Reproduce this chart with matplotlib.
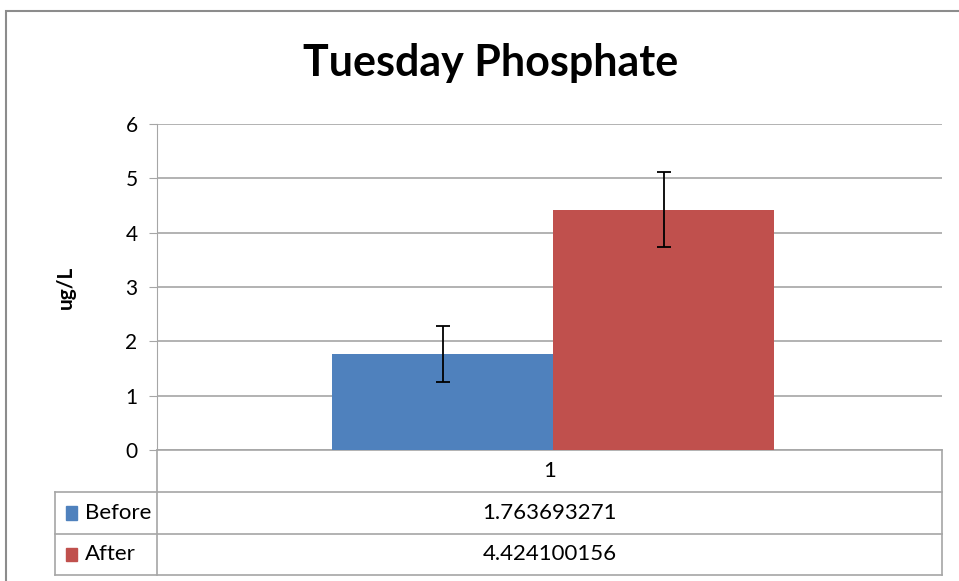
import matplotlib
matplotlib.use("Agg")
from matplotlib import pyplot as plt
from matplotlib.patches import Rectangle
from matplotlib.lines import Line2D

plt.rcParams["font.family"] = ["Lato", "DejaVu Sans"]

# data
series = ["Before", "After"]
values = [1.763693271, 4.424100156]
errors = [0.51, 0.69]
colors = ["#4F81BD", "#C0504D"]
category = "1"
value_labels = ["1.763693271", "4.424100156"]
yticks = [0, 1, 2, 3, 4, 5, 6]

W, H = 959, 581
fig = plt.figure(figsize=(W / 100, H / 100), dpi=100)

# chart border (extends past right/bottom edge like the screenshot)
fig.patches.append(Rectangle((6 / W, -0.1), 1.2, 1 - 11 / H + 0.1,
                             transform=fig.transFigure, fill=False,
                             edgecolor="#8c8c8c", linewidth=1.5))

left, right, top, bottom = 157, 942, 124, 450
ax = fig.add_axes([left / W, 1 - bottom / H, (right - left) / W, (bottom - top) / H])

grid_c = "#a6a6a6"
pw = right - left
width = 221 / pw
center = (553 - left) / pw - 0.5
offsets = [center - width / 2, center + width / 2]
for name, v, e, c, off in zip(series, values, errors, colors, offsets):
    ax.bar(off, v, width=width, color=c, yerr=e, capsize=5,
           error_kw=dict(ecolor="black", elinewidth=1.3, capthick=1.3), zorder=3)

ax.set_xlim(-0.5, 0.5)
ax.set_ylim(0, 6)
ax.set_yticks(yticks)
ax.set_yticklabels([str(t) for t in yticks], fontsize=15)
ax.set_xticks([])
ax.yaxis.grid(True, color=grid_c, linewidth=1.2, zorder=0)
for s in ["top", "right", "bottom"]:
    ax.spines[s].set_visible(False)
ax.spines["left"].set_color(grid_c)
ax.tick_params(axis="y", length=6, color=grid_c, pad=8)
ax.set_ylabel("ug/L", fontsize=15, fontweight="bold", labelpad=36)

fig.text(491 / W, 1 - 63 / H, "Tuesday Phosphate", ha="center", va="center",
         fontsize=31, fontweight="bold")

# data table below the axis
ph = bottom - top


def fy(py):
    return (bottom - py) / ph


def fx(px):
    return (px - left) / pw


rows = [450, 492, 534, 575]
lkw = dict(color=grid_c, linewidth=1.2, clip_on=False, transform=ax.transAxes)
ax.add_line(Line2D([0, 1], [0, 0], **lkw))
for r in rows[1:]:
    ax.add_line(Line2D([fx(55), 1], [fy(r), fy(r)], **lkw))
ax.add_line(Line2D([0, 0], [fy(450), fy(575)], **lkw))
ax.add_line(Line2D([1, 1], [fy(450), fy(575)], **lkw))
ax.add_line(Line2D([fx(55), fx(55)], [fy(492), fy(575)], **lkw))

ax.text(0.5, fy(471), category, transform=ax.transAxes, ha="center", va="center",
        fontsize=16)
for i, (name, lab, c) in enumerate(zip(series, value_labels, colors)):
    yc = fy((rows[i + 1] + rows[i + 2]) / 2)
    ax.add_patch(Rectangle((fx(66), yc - 0.02), 11 / pw, 0.04,
                           transform=ax.transAxes, color=c, clip_on=False))
    ax.text(fx(85), yc, name, transform=ax.transAxes, ha="left", va="center",
            fontsize=16)
    ax.text(0.5, yc, lab, transform=ax.transAxes, ha="center", va="center",
            fontsize=16)

fig.savefig("out.png", dpi=100)
